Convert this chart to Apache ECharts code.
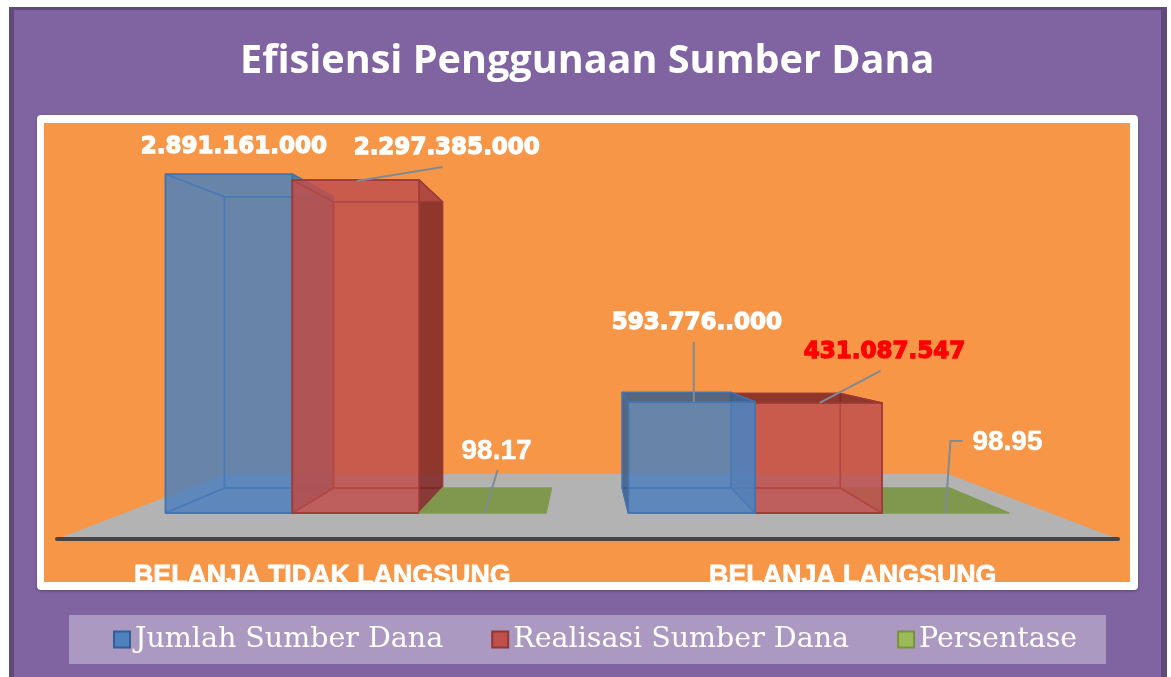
<!DOCTYPE html>
<html>
<head>
<meta charset="utf-8">
<style>html,body{margin:0;padding:0;background:#fff}#c{width:1171px;height:677px}</style>
<script src="https://cdn.jsdelivr.net/npm/echarts@6/dist/echarts.min.js"></script>
</head>
<body>
<div id="c"></div>
<script>
var titleText = 'Efisiensi Penggunaan Sumber Dana';
var categories = ['BELANJA TIDAK LANGSUNG', 'BELANJA LANGSUNG'];
var seriesNames = ['Jumlah Sumber Dana', 'Realisasi Sumber Dana', 'Persentase'];
// drawn bar heights (the printed labels are separate text)
var jumlahValues = [2891161000, 947000000];
var realisasiValues = [2841000000, 939000000];
var persentaseValues = [98.17, 98.95];
// printed labels
var jumlahLabels = ['2.891.161.000', '593.776..000'];
var realisasiLabels = ['2.297.385.000', '431.087.547'];
var persentaseLabels = ['98.17', '98.95'];

// perspective and annotation layout
var VP = [585, 335], S_FRONT = 0.8725, S_BACK = 0.75, S_FLOOR = 0.68, BAR_FRAC = 0.274;
var looks = [
  {base:'79,129,189', line:'#4472ad', inner:.6, rightInner:.8, front:.6, back:.6, outer:'50,80,120', outerA:.62, bottom:.6},
  {base:'192,80,77', line:'#9b3a36', inner:.6, rightInner:.6, front:.62, back:.6, outer:'115,35,30', outerA:.72, bottom:.6},
  {base:'118,147,60', line:'#7f9a4f', inner:0, rightInner:0, front:0, back:0, outer:'118,147,60', outerA:0, bottom:.85}
];
var labelSets = [jumlahLabels, realisasiLabels, persentaseLabels];
var valueSets = [jumlahValues, realisasiValues, persentaseValues];
var bigFont = 'bold 23px "DejaVu Sans"', smallFont = 'bold 28px "Liberation Sans"';
// per series, per category: label offset from top-centre of the bar, and leader polyline offsets
var labelLayout = [
  [{dx:5, dy:-27, font:bigFont, color:'#fff', width:1.3, leader:null},
   {dx:5, dy:-79, font:bigFont, color:'#fff', width:1.3, leader:[[2,0],[2,-60]]}],
  [{dx:91, dy:-32, font:bigFont, color:'#fff', width:1.3, leader:[[1,1],[87,-13]]},
   {dx:66, dy:-51, font:bigFont, color:'#f00', width:1.3, leader:[[1,0],[62,-32]]}],
  [{dx:14, dy:-62, font:smallFont, color:'#fff', width:0.5, leader:[[2,0],[15,-43]]},
   {dx:62, dy:-71, font:smallFont, color:'#fff', width:0.5, leader:[[0,0],[5,-72],[17,-72]]}]
];

function proj(x, y, s) { return [VP[0] + s * (x - VP[0]), VP[1] + s * (y - VP[1])]; }

function renderBar(seriesIdx) {
  return function (params, api) {
    var cat = api.value(0), val = api.value(1);
    var base = api.coord([cat, 0]), top = api.coord([cat, val]);
    var band = api.size([1, 0])[0], w = band * BAR_FRAC;
    var x0 = base[0] + (seriesIdx - 1.5) * w, x1 = x0 + w;
    var L = looks[seriesIdx];
    var f = function (x, y) { return proj(x, y, S_FRONT); };
    var b = function (x, y) { return proj(x, y, S_BACK); };
    var yT = top[1], yB = base[1];
    // paint order: bars further from the vanishing point line go first
    var paintRank = f(x0, yB)[0] < VP[0] ? seriesIdx : 2 - seriesIdx;
    var n = 0;
    var face = function (pts, fill) {
      n++;
      return {type:'polygon', z2:paintRank * 10 + n, shape:{points:pts}, style:{fill:fill, stroke:L.line, lineWidth:1.5, lineJoin:'round'}};
    };
    var col = function (a) { return 'rgba(' + L.base + ',' + a + ')'; };
    var outerCol = 'rgba(' + L.outer + ',' + L.outerA + ')';
    var ch = [];
    var ftl = f(x0,yT), ftr = f(x1,yT), fbl = f(x0,yB), fbr = f(x1,yB);
    var btl = b(x0,yT), btr = b(x1,yT), bbl = b(x0,yB), bbr = b(x1,yB);
    if (seriesIdx === 2) {
      ch.push(face([fbl,fbr,bbr,bbl], col(L.bottom)));
    } else {
      var leftOuter = btl[0] < ftl[0], rightOuter = btr[0] > ftr[0], topOuter = btl[1] < ftl[1];
      ch.push(face([btl,btr,bbr,bbl], col(L.back)));
      ch.push(face([fbl,fbr,bbr,bbl], col(L.bottom)));
      // the red bar's left wall on the far side of the vanishing point is hidden by the blue bar
      if (!(leftOuter && seriesIdx > 0)) {
        ch.push(face([ftl,btl,bbl,fbl], leftOuter ? outerCol : col(L.inner)));
      }
      ch.push(face([ftr,btr,bbr,fbr], rightOuter ? outerCol : col(L.rightInner)));
      ch.push(face([ftl,ftr,btr,btl], topOuter ? outerCol : col(L.inner)));
      ch.push(face([ftl,ftr,fbr,fbl], col(L.front)));
    }
    var a = [(ftl[0] + ftr[0]) / 2, ftl[1]];
    var lay = labelLayout[seriesIdx][params.dataIndex];
    if (lay.leader) {
      ch.push({type:'polyline', z2:100, shape:{points:lay.leader.map(function (p) { return [a[0]+p[0], a[1]+p[1]]; })},
        style:{fill:'none', stroke:'#7f8a94', lineWidth:2}});
    }
    ch.push({type:'text', z2:101, style:{x:a[0]+lay.dx, y:a[1]+lay.dy, text:labelSets[seriesIdx][params.dataIndex],
      fill:lay.color, font:lay.font, align:'center', verticalAlign:'middle', textAlign:'center', textVerticalAlign:'middle',
      stroke:lay.color, lineWidth:lay.width}});
    return {type:'group', children:ch};
  };
}

function renderFloor(params, api) {
  var c = params.coordSys, yB = c.y + c.height;
  var p0 = [c.x, yB], p1 = [c.x + c.width, yB];
  var p2 = proj(c.x + c.width, yB, S_FLOOR), p3 = proj(c.x, yB, S_FLOOR);
  return {type:'polygon', shape:{points:[p0,p1,p2,p3]}, style:{fill:'#b3b3b3'}};
}

var chart = echarts.init(document.getElementById('c'));
var barSeries = seriesNames.map(function (name, i) {
  return {
    name:name, type:'custom', z:3, renderItem:renderBar(i), clip:false, silent:true,
    encode:{x:0, y:1},
    itemStyle:{color:'rgb(' + ['79,129,189','192,80,77','155,187,89'][i] + ')', borderColor:['#2f5f95','#943634','#76933c'][i], borderWidth:2},
    data:valueSets[i].map(function (v, c) { return [c, v]; })
  };
});
chart.setOption({
  animation:false,
  backgroundColor:'#fff',
  title:{text:titleText, left:240, top:42, padding:0, itemGap:0,
    textStyle:{color:'#fff', fontFamily:'Open Sans', fontWeight:'bold', fontSize:39.6}},
  grid:{left:57, right:53, top:136, bottom:138, containLabel:false},
  xAxis:{type:'category', data:categories, z:6,
    axisLine:{show:true, lineStyle:{color:'#454545', width:4, cap:'round'}},
    axisTick:{show:false},
    axisLabel:{margin:24, color:'#fff', fontFamily:'Liberation Sans', fontWeight:'bold', fontSize:26.8, textBorderColor:'#fff', textBorderWidth:0.8}},
  yAxis:{type:'value', min:0, max:3000000000, interval:1000000000, show:false, splitLine:{show:false}},
  legend:{data:seriesNames, left:113, top:625, padding:0, itemWidth:16, itemHeight:16, itemGap:48, icon:'rect',
    textStyle:{color:'#fff', fontFamily:'DejaVu Serif', fontSize:28.5}},
  graphic:[
    {type:'rect', z:-10, silent:true, shape:{x:9,y:7,width:1158,height:670}, style:{fill:'#5f4a7b'}},
    {type:'rect', z:-9, silent:true, shape:{x:14,y:10,width:1147,height:667}, style:{fill:'#8064a2'}},
    {type:'rect', z:-8, silent:true, shape:{x:37,y:115,width:1101,height:475,r:4}, style:{fill:'#fff', shadowBlur:3, shadowColor:'rgba(0,0,0,.3)', shadowOffsetY:1}},
    {type:'rect', z:-7, silent:true, shape:{x:44,y:123,width:1086,height:459}, style:{fill:'#f79646'}},
    {type:'rect', z:-7, silent:true, shape:{x:69,y:615,width:1037,height:49}, style:{fill:'rgba(255,255,255,.34)'}}
  ],
  series:[{type:'custom', name:'lantai', z:2, silent:true, clip:false, renderItem:renderFloor, data:[[0,0]], encode:{x:0,y:1}}].concat(barSeries)
});
</script>
</body>
</html>
